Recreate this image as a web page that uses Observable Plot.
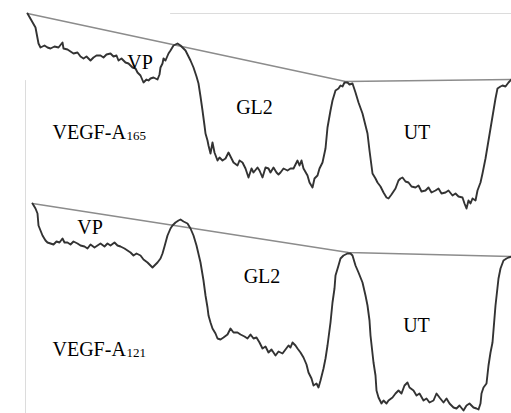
<!DOCTYPE html>
<html>
<head>
<meta charset="utf-8">
<script src="https://cdn.jsdelivr.net/npm/d3@7"></script>
<script src="https://cdn.jsdelivr.net/npm/@observablehq/plot@0.6"></script>
<style>
  html, body { margin: 0; padding: 0; background: #fff; }
  #chart { width: 511px; height: 413px; overflow: hidden; }
</style>
</head>
<body>
<div id="chart"></div>
<script>
// Densitometric scans of two stained sections (scan position, depth on the page)
const topTrace = [
  [27,13],[31,20],[35,27],[38,43],[40,47],[44,45],[47,47],[50,48],[54,46],[58,47],[62,42],[63,48],
  [67,49],[70,51],[73,53],[77,52],[80,56],[83,58],[86,56],[90,60],[93,57],[96,55],[100,55],[103,57],
  [106,54],[110,53],[113,56],[116,55],[118,60],[121,58],[125,62],[128,63],[132,67],[135,68],[137,72],
  [140,75],[143,82],[146,79],[148,80],[150,78],[153,77],[157,79],[159,74],[160,67],[162,63],[163,58],
  [165,60],[168,53],[170,50],[173,45],[175,44],[177,43],[180,45],[182,47],[185,50],[188,56],[190,60],
  [193,67],[196,76],[198,83],[200,96],[202,110],[204,125],[205,133],[207,140],[208,145],[210,153],
  [212,142],[214,152],[217,160],[219,157],[222,160],[225,158],[228,152],[231,158],[233,162],[237,165],
  [239,160],[242,162],[245,168],[248,177],[251,168],[253,172],[257,167],[259,170],[262,177],[265,167],
  [268,168],[270,172],[273,167],[276,172],[278,174],[280,172],[283,168],[287,170],[290,168],[293,168],
  [297,160],[299,165],[301,160],[303,168],[307,175],[309,182],[312,187],[314,178],[317,175],[319,168],
  [322,162],[325,148],[327,127],[330,110],[332,100],[335,90],[338,88],[340,85],[342,86],[344,82],
  [347,82],[349,84],[352,83],[355,92],[358,102],[362,113],[365,125],[367,133],[369,150],[372,173],
  [375,178],[377,182],[380,186],[383,192],[386,197],[388,198],[391,194],[395,188],[398,180],[400,178],
  [402,177],[405,181],[408,182],[411,186],[415,187],[418,185],[421,191],[425,190],[428,187],[431,192],
  [435,190],[438,188],[441,193],[445,192],[448,190],[452,195],[455,193],[458,196],[462,197],[464,203],
  [466,208],[468,200],[470,203],[472,198],[475,200],[477,190],[480,182],[482,173],[485,158],[488,140],
  [491,122],[493,110],[495,98],[497,88],[500,86],[502,85],[505,86],[508,82],[511,79]
];

const bottomTrace = [
  [32,203],[35,208],[37,213],[38,225],[40,230],[42,235],[45,240],[47,242],[50,243],[53,244],[56,241],
  [59,242],[62,238],[64,242],[67,242],[70,244],[73,241],[77,243],[80,245],[84,246],[87,248],[90,244],
  [94,247],[97,245],[100,243],[104,246],[107,243],[110,245],[114,242],[117,245],[120,246],[124,248],
  [127,250],[130,252],[133,255],[136,253],[140,255],[143,259],[147,262],[150,265],[152,267],[155,264],
  [157,262],[160,258],[162,253],[164,246],[167,235],[170,228],[172,225],[175,222],[178,220],[180,219],
  [183,221],[187,223],[190,228],[193,235],[196,245],[200,262],[203,280],[205,295],[207,307],[208,315],
  [210,322],[212,328],[215,333],[217,338],[220,339],[223,337],[227,334],[230,328],[233,332],[237,332],
  [240,334],[244,336],[247,338],[250,334],[253,338],[256,337],[259,342],[262,348],[265,346],[268,352],
  [271,349],[275,355],[278,351],[282,353],[285,349],[288,345],[290,347],[292,342],[295,345],[297,348],
  [300,352],[303,357],[306,364],[308,372],[311,378],[313,385],[316,383],[318,387],[320,380],[323,368],
  [325,358],[327,345],[330,322],[332,302],[334,288],[335,275],[338,265],[340,258],[343,255],[347,253],
  [350,253],[352,255],[355,265],[358,272],[362,282],[365,295],[367,305],[369,320],[370,335],[373,362],
  [375,375],[376,390],[378,397],[381,403],[383,400],[386,403],[388,400],[392,397],[395,393],[398,390],
  [401,393],[404,385],[407,382],[409,387],[413,390],[416,395],[419,393],[423,400],[426,398],[429,402],
  [433,400],[436,393],[439,397],[443,402],[446,398],[449,403],[453,407],[456,408],[459,405],[463,410],
  [466,405],[469,403],[473,407],[476,408],[478,409],[480,403],[481,393],[483,387],[486,383],[488,365],
  [490,352],[492,342],[495,305],[498,278],[500,268],[503,260],[506,258],[508,257],[511,256]
];

// Background (baseline) lines joining the peak maxima of each scan
const topBaseline = [[27,13],[345,81],[511,79]];
const bottomBaseline = [[32,203],[348,252],[511,256]];

// Faint edges of the scanned frame
const frameEdges = [
  [[170,13],[511,13]],
  [[25,80],[25,413]]
];

// Region names and where each one sits on the scan
const regionNames = ["VP", "GL2", "UT", "VP", "GL2", "UT"];
const regionAnchors = [[139.5,68],[254,113],[416.5,138],[89.5,233],[261.5,282],[416,331]];

// Scan titles: protein name plus isoform subscript
const scanNames = ["VEGF-A", "VEGF-A"];
const scanIsoforms = ["165", "121"];
const scanAnchors = [[52,138],[52,355]];
const isoformAnchors = [[126,139],[126,356]];

const lab = (names, anchors) => names.map((t, i) => ({label: t, px: anchors[i][0], py: anchors[i][1]}));
const serif = "Liberation Serif";

const chart = Plot.plot({
  width: 511,
  height: 413,
  margin: 0,
  x: {domain: [0, 511], range: [0, 511], axis: null},
  y: {domain: [0, 413], range: [0, 413], axis: null},
  marks: [
    ...frameEdges.map(seg => Plot.line(seg, {x: d => d[0], y: d => d[1], stroke: "#dcdcdc", strokeWidth: 1})),
    Plot.line(topBaseline, {x: d => d[0], y: d => d[1], stroke: "#8c8c8c", strokeWidth: 1.5}),
    Plot.line(bottomBaseline, {x: d => d[0], y: d => d[1], stroke: "#8c8c8c", strokeWidth: 1.5}),
    Plot.line(topTrace, {x: d => d[0], y: d => d[1], stroke: "#333", strokeWidth: 1.9, strokeLinejoin: "round"}),
    Plot.line(bottomTrace, {x: d => d[0], y: d => d[1], stroke: "#333", strokeWidth: 1.9, strokeLinejoin: "round"}),
    Plot.text(lab(regionNames, regionAnchors), {
      x: d => d.px, y: d => d.py, text: d => d.label, textAnchor: "middle", lineAnchor: "bottom",
      fontFamily: serif, fontSize: 20
    }),
    Plot.text(lab(scanNames, scanAnchors), {
      x: d => d.px, y: d => d.py, text: d => d.label, textAnchor: "start", lineAnchor: "bottom",
      fontFamily: serif, fontSize: 20
    }),
    Plot.text(lab(scanIsoforms, isoformAnchors), {
      x: d => d.px, y: d => d.py, text: d => d.label, textAnchor: "start", lineAnchor: "bottom",
      fontFamily: serif, fontSize: 13
    })
  ]
});

document.getElementById("chart").appendChild(chart);
</script>
</body>
</html>
